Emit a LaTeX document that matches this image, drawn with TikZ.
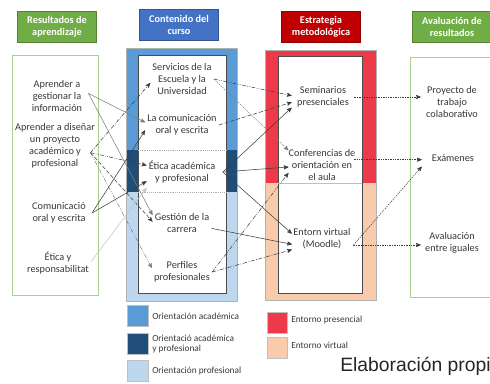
\documentclass[tikz,border=0pt]{standalone}
\usepackage{fontspec}
\setmainfont{Carlito}
\newfontfamily\arialfont{Liberation Sans}
\usepackage{tikz}
\usetikzlibrary{arrows}
\definecolor{hdgreen}{RGB}{112,173,71}
\definecolor{hdblue}{RGB}{68,114,196}
\definecolor{hdred}{RGB}{192,0,0}
\definecolor{boxgreen}{RGB}{169,209,142}
\definecolor{acadblue}{RGB}{91,155,213}
\definecolor{mixblue}{RGB}{31,78,121}
\definecolor{profblue}{RGB}{189,215,238}
\definecolor{presred}{RGB}{236,58,74}
\definecolor{virtpeach}{RGB}{248,203,173}
\definecolor{lndark}{RGB}{60,60,60}
\definecolor{lnmid}{RGB}{125,125,125}
\definecolor{lnlight}{RGB}{195,195,195}
\tikzset{
  txt/.style={font=\fontsize{7.7}{9}\selectfont, align=center, inner sep=1.5pt, text=black!78},
  txtm/.style={txt, inner xsep=4pt},
  txte/.style={txt, minimum width=46.5pt},
  legtxt/.style={font=\fontsize{7}{8.2}\selectfont, align=left, inner sep=0pt, text=black!78, anchor=west},
  hdbox/.style={draw=#1!75!black, line width=.3pt, fill=#1, text=white, font=\fontsize{7.7}{9}\selectfont\bfseries, align=center, minimum width=59pt, minimum height=23pt, inner sep=1pt},
  arr/.style={->, >=stealth'},
  lndash/.style={dash pattern=on 3pt off 1.5pt},
  lndashdot/.style={dash pattern=on 3pt off 1.2pt on .6pt off 1.2pt},
  lndashdotdot/.style={dash pattern=on 3pt off 1pt on .6pt off 1pt on .6pt off 1pt},
  lndot/.style={dash pattern=on 1pt off .8pt}
}
\begin{document}
\begin{tikzpicture}[x=.75pt,y=-.75pt,line width=.4pt]
\useasboundingbox (0,0) rectangle (490,383);
\node[hdbox=hdgreen] (hres) at (57,27) {Resultados de\\aprendizaje};
\node[hdbox=hdblue] (hcon) at (179,25) {Contenido del\\curso};
\node[hdbox=hdred] (hest) at (321,27) {Estrategia\\metodológica};
\node[hdbox=hdgreen] (hava) at (452,27) {Avaluación de\\resultados};
\draw[boxgreen,line width=.6pt] (12,55) rectangle (98,295);
\draw[boxgreen,line width=.6pt] (410,57) rectangle (493,297);
\fill[acadblue] (126,48) rectangle (237,150);
\fill[mixblue] (126,150) rectangle (237,192);
\fill[profblue] (126,192) rectangle (237,301);
\draw[black!30] (126,48) rectangle (237,301);
\filldraw[fill=white,draw=black!70,line width=.5pt] (138,55) rectangle (226,293);
\foreach \y in {150,192} \draw[black!30,densely dotted] (138,\y) -- (226,\y);
\fill[presred] (265,50) rectangle (376,183);
\fill[virtpeach] (265,183) rectangle (376,300);
\draw[black!30] (265,50) rectangle (376,300);
\filldraw[fill=white,draw=black!70,line width=.5pt] (278,56) rectangle (362,293);
\draw[black!25] (278,183) -- (362,183);
\node[txt] (gest) at (57,96) {Aprender a\\gestionar la\\información};
\node[txt] (dis) at (55,146) {Aprender a diseñar\\un proyecto\\académico y\\profesional};
\node[txt] (comu) at (59,213) {Comunicació\\oral y escrita};
\node[txt] (etre) at (58,263) {Ética y\\responsabilitat};
\node[txt] (serv) at (182,79) {Servicios de la\\Escuela y la\\Universidad};
\node[txt] (lacom) at (182,125) {La comunicación\\oral y escrita};
\node[txt] (etica) at (182,172) {Ética académica\\y profesional};
\node[txt] (gesc) at (182,223) {Gestión de la\\carrera};
\node[txt] (perf) at (182,272) {Perfiles\\profesionales};
\node[txtm] (sem) at (323,97) {Seminarios\\presenciales};
\node[txtm] (conf) at (322,165) {Conferencias de\\orientación en\\el aula};
\node[txtm] (ent) at (322,239) {Entorn virtual\\(Moodle)};
\node[txte] (proy) at (452,102) {Proyecto de\\trabajo\\colaborativo};
\node[txte] (exa) at (453,158) {Exámenes};
\node[txte] (aval) at (452,243) {Avaluación\\entre iguales};
\coordinate (gest-o) at ([xshift=3pt,yshift=2pt]gest.east);
\coordinate (dis-o) at ([xshift=-5pt,yshift=-5pt]dis.east);
\coordinate (comu-o) at ([xshift=3pt]comu.east);
\coordinate (etre-o) at ([yshift=1pt]etre.east);
\coordinate (etica-o) at ([xshift=4pt]etica.east);
\coordinate (conf-o) at ([xshift=-5pt,yshift=4pt]conf.east);
\coordinate (ent-o) at ([xshift=-2pt,yshift=-4.5pt]ent.east);
\draw[lnmid,arr] (gest-o) -- ([yshift=2pt]lacom.west);
\draw[lnmid,arr] (gest-o) -- ([yshift=6pt]gesc.west);
\draw[lndark,lndashdot,arr] (dis-o) -- ([yshift=-3pt]serv.west);
\draw[lndark,lndashdotdot,arr] (dis-o) -- ([yshift=5pt]etica.west);
\draw[lndark,lndash,arr] (dis-o) -- ([yshift=1pt]gesc.west);
\draw[lnmid,lndashdotdot,arr] (dis-o) -- ([yshift=3pt]perf.west);
\draw[lndark,arr] (comu-o) -- ([yshift=-4pt]lacom.west);
\draw[lndark,arr] (comu-o) -- ([yshift=-7pt]etica.west);
\draw[lnlight,arr] (etre-o) -- ([yshift=-12pt]etica.west);
\draw[lndark,lndashdotdot,arr] (serv.east) -- ([yshift=1pt]sem.west);
\draw[lnmid,lndot,arr] (serv.east) -- ([xshift=4pt,yshift=11pt]conf.west);
\draw[lndark,lndash,arr] (lacom.east) -- ([yshift=-4pt]sem.west);
\draw[lndark,arr] (etica-o) -- ([yshift=-8pt]sem.west);
\draw[lndark,arr] (etica-o) -- ([xshift=4pt,yshift=-1.5pt]conf.west);
\draw[lndark,arr] (etica-o) -- ([xshift=3pt,yshift=4pt]ent.west);
\draw[lndark,arr] ([yshift=-4pt]gesc.east) -- ([xshift=3pt,yshift=-4pt]ent.west);
\draw[lndark,lndashdot,arr] (perf.east) -- ([xshift=3pt,yshift=-8pt]ent.west);
\draw[lndark,lndashdotdot,arr] (perf.east) -- ([xshift=4pt,yshift=-6pt]conf.west);
\draw[lndark,lndot,arr] (sem.east) -- (sem.east -| proy.west);
\draw[lndark,lndot,arr] (conf-o) -- (conf-o -| exa.west);
\draw[lndark,lndot,arr] (ent-o) -- ([yshift=-6.5pt]exa.west);
\draw[lndark,lndot,arr] (ent-o) -- (ent-o -| aval.west);
\foreach \c/\y/\t in {acadblue/305/{Orientación académica}, mixblue/333/{Orientació académica\\y profesional}, profblue/360/{Orientación profesional}} {
  \filldraw[fill=\c,draw=black!25] (127,\y) rectangle ++(21,21);
  \node[legtxt] at (152,\y+11) {\t};
}
\foreach \c/\y/\t in {presred/312/{Entorno presencial}, virtpeach/337/{Entorno virtual}} {
  \filldraw[fill=\c,draw=black!25] (267,\y) rectangle ++(20,21);
  \node[legtxt] at (291,\y+8) {\t};
}
\node[anchor=east,inner sep=0pt,font=\arialfont\fontsize{14.5}{16}\selectfont,text=black!85] (elab) at (491,366) {Elaboración propi};
\end{tikzpicture}
\end{document}
